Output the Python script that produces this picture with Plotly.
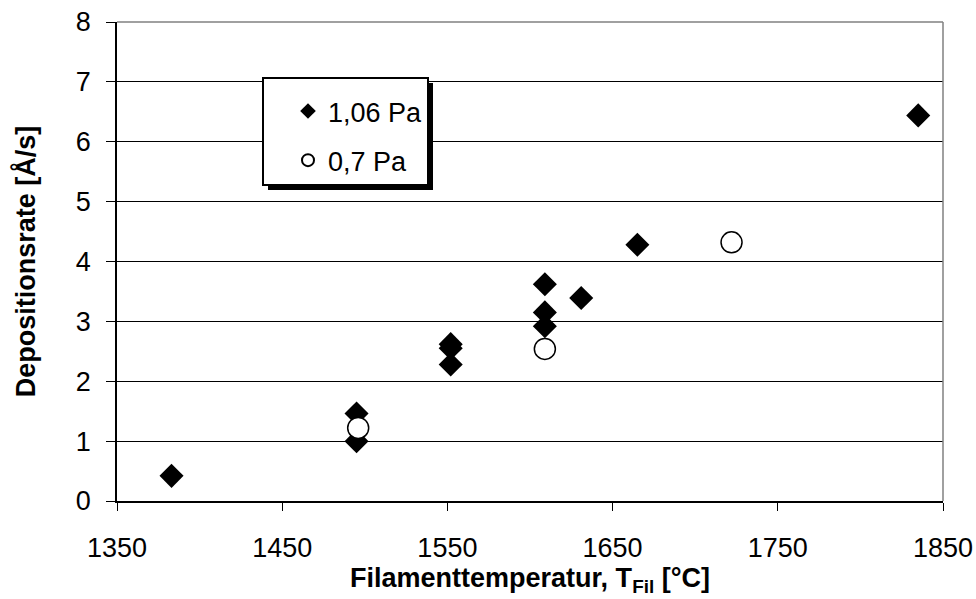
import plotly.graph_objects as go

# Data
temp_106 = [1383, 1495, 1495, 1552, 1552, 1552, 1609, 1609, 1609, 1631, 1665, 1835]
rate_106 = [0.42, 1.46, 1.00, 2.62, 2.55, 2.28, 3.62, 3.15, 2.92, 3.39, 4.28, 6.44]
temp_07 = [1496, 1609, 1722]
rate_07 = [1.22, 2.54, 4.32]

x_ticks = [1350, 1450, 1550, 1650, 1750, 1850]
y_ticks = [0, 1, 2, 3, 4, 5, 6, 7, 8]

W, H = 976, 599
L, R, T, B = 117, 33, 22, 98
pw, ph = W - L - R, H - T - B

def px_x(p):
    return (p - L) / pw

def px_y(p):
    return (H - B - p) / ph

FONT = "Arial, Liberation Sans, sans-serif"

fig = go.Figure()
fig.add_trace(go.Scatter(
    x=temp_106, y=rate_106, mode="markers", name="1,06 Pa",
    legendgroup="a",
    marker=dict(symbol="diamond", size=18.5, color="black", line=dict(width=0)),
))
fig.add_trace(go.Scatter(
    x=temp_07, y=rate_07, mode="markers", name="0,7 Pa",
    legendgroup="b",
    marker=dict(symbol="circle", size=21, color="white", line=dict(width=1.5, color="black")),
))

shapes = [
    # legend shadow
    dict(type="rect", xref="paper", yref="paper", layer="above",
         x0=px_x(268), x1=px_x(433), y0=px_y(190), y1=px_y(83),
         fillcolor="black", line=dict(width=0)),
    # legend box
    dict(type="rect", xref="paper", yref="paper", layer="above",
         x0=px_x(263), x1=px_x(428), y0=px_y(185), y1=px_y(78),
         fillcolor="white", line=dict(width=2, color="black")),
    # right and top frame
    dict(type="line", xref="paper", yref="paper", x0=1, x1=1, y0=0, y1=1,
         line=dict(width=1.5, color="#808080")),
    dict(type="line", xref="paper", yref="paper", x0=0, x1=1, y0=1, y1=1,
         line=dict(width=1.5, color="#808080")),
]

fig.update_layout(
    width=W, height=H,
    margin=dict(l=L, r=R, t=T, b=B, pad=0, autoexpand=False),
    paper_bgcolor="white", plot_bgcolor="white",
    font=dict(family=FONT, size=27, color="black"),
    shapes=shapes,
    showlegend=True,
    legend=dict(
        x=px_x(288), y=px_y(87), xanchor="left", yanchor="top",
        bgcolor="rgba(0,0,0,0)", borderwidth=0,
        font=dict(family=FONT, size=27, color="black"),
        itemsizing="constant", tracegroupgap=11,
    ),
    xaxis=dict(
        range=[1350, 1850], tickmode="array", tickvals=x_ticks,
        ticktext=[str(v) for v in x_ticks],
        showgrid=False, zeroline=False, automargin=False,
        showline=True, linecolor="black", linewidth=1.5,
        ticks="outside", ticklen=8, tickwidth=1, tickcolor="black",
        tickfont=dict(family=FONT, size=27), ticklabelstandoff=14,
        title=dict(text="<b>Filamenttemperatur, T<sub>Fil</sub> [°C]</b>",
                   font=dict(family=FONT, size=27), standoff=3),
    ),
    yaxis=dict(
        range=[0, 8], tickmode="array", tickvals=y_ticks,
        ticktext=[str(v) for v in y_ticks],
        showgrid=True, gridcolor="black", gridwidth=1, zeroline=False,
        automargin=False,
        showline=True, linecolor="black", linewidth=1.5,
        ticks="outside", ticklen=9, tickwidth=1, tickcolor="black",
        tickfont=dict(family=FONT, size=27), ticklabelstandoff=10,
        title=dict(text="<b>Depositionsrate [Å/s]</b>",
                   font=dict(family=FONT, size=27), standoff=32),
    ),
)

fig.write_html("out.html")
